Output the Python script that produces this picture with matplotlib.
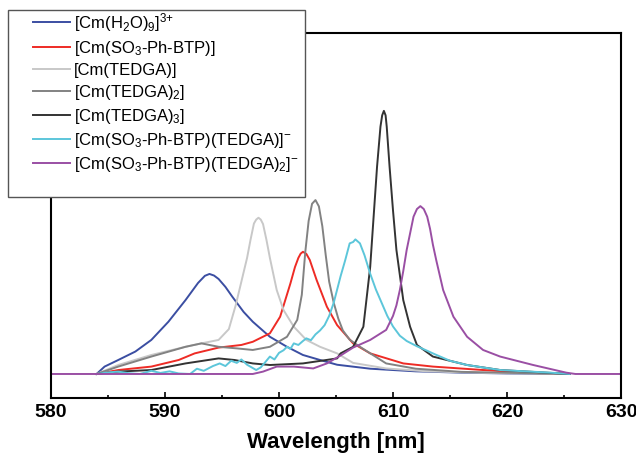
import matplotlib
matplotlib.use("Agg")
import matplotlib.pyplot as plt
from matplotlib.patches import Rectangle

plt.rcParams["font.family"] = ["Liberation Sans", "DejaVu Sans"]
plt.rcParams["mathtext.fontset"] = "custom"
plt.rcParams["mathtext.rm"] = "Liberation Sans"
plt.rcParams["mathtext.default"] = "regular"

labels = [
    r"[Cm(H$_2$O)$_9$]$^{3{+}}$",
    r"[Cm(SO$_3$-Ph-BTP)]",
    "[Cm(TEDGA)]",
    r"[Cm(TEDGA)$_2$]",
    r"[Cm(TEDGA)$_3$]",
    r"[Cm(SO$_3$-Ph-BTP)(TEDGA)]$^{{-}}$",
    r"[Cm(SO$_3$-Ph-BTP)(TEDGA)$_2$]$^{{-}}$",
]
colors = ["#3b4ea2", "#ee2b25", "#c8c8c8", "#828282", "#333333", "#5cc6da", "#9a4fa4"]

# values (normalised intensity, tallest peak = 1)
h2o_wl = [584.0, 584.7, 585.9, 587.4, 588.8, 590.3, 591.8, 592.9, 593.5, 593.9, 594.3,
          594.7, 595.3, 595.9, 596.9, 597.7, 599.2, 600.7, 602.1, 603.6, 605.1, 608.0,
          612.0, 616.0, 620.0, 625.5]
h2o_int = [0.0, 0.028, 0.053, 0.085, 0.129, 0.198, 0.28, 0.345, 0.372, 0.379, 0.373,
           0.36, 0.33, 0.293, 0.235, 0.198, 0.141, 0.103, 0.072, 0.053, 0.035, 0.02,
           0.01, 0.005, 0.002, 0.0]

btp_wl = [584.0, 585.9, 588.8, 591.2, 592.6, 594.7, 596.7, 597.7, 599.2, 600.1, 601.0,
          601.4, 601.7, 601.9, 602.1, 602.4, 602.7, 603.3, 604.2, 605.1, 606.5, 608.0,
          610.9, 613.5, 617.9, 622.0, 625.5]
btp_int = [0.0, 0.015, 0.028, 0.053, 0.078, 0.1, 0.11, 0.122, 0.154, 0.217, 0.343,
           0.405, 0.44, 0.456, 0.463, 0.455, 0.432, 0.356, 0.255, 0.185, 0.116, 0.078,
           0.04, 0.028, 0.015, 0.004, 0.0]

tedga1_wl = [584.0, 585.9, 588.8, 591.8, 593.2, 594.7, 595.6, 596.2, 596.7, 597.2, 597.5,
             597.8, 598.0, 598.2, 598.4, 598.6, 598.9, 599.2, 599.8, 600.4, 601.3, 602.4,
             603.6, 605.1, 606.5, 609.4, 613.0, 618.0, 625.5]
tedga1_int = [0.0, 0.034, 0.072, 0.103, 0.116, 0.129, 0.17, 0.26, 0.35, 0.44, 0.508,
              0.57, 0.585, 0.592, 0.585, 0.568, 0.508, 0.44, 0.318, 0.242, 0.179, 0.129,
              0.103, 0.078, 0.042, 0.021, 0.01, 0.004, 0.0]

tedga2_wl = [584.0, 585.9, 588.8, 591.8, 593.2, 594.7, 596.3, 597.7, 599.2, 600.7, 601.6,
             602.0, 602.3, 602.6, 602.9, 603.2, 603.5, 603.8, 604.1, 604.4, 604.8, 605.2,
             605.6, 606.2, 607.1, 609.4, 612.0, 616.0, 625.5]
tedga2_int = [0.0, 0.028, 0.066, 0.103, 0.116, 0.103, 0.097, 0.091, 0.103, 0.141, 0.205,
              0.3, 0.46, 0.58, 0.645, 0.659, 0.635, 0.56, 0.45, 0.35, 0.27, 0.21,
              0.165, 0.13, 0.103, 0.04, 0.02, 0.008, 0.0]

tedga3_wl = [584.0, 585.9, 588.8, 591.8, 594.7, 596.1, 597.7, 599.2, 602.1, 605.1, 605.4,
             606.5, 607.4, 608.0, 608.3, 608.6, 608.9, 609.05, 609.2, 609.35, 609.45, 609.7,
             610.0, 610.3, 610.9, 611.5, 612.1, 613.5, 616.5, 619.4, 625.5]
tedga3_int = [0.0, 0.009, 0.015, 0.04, 0.059, 0.053, 0.04, 0.034, 0.04, 0.059, 0.078,
              0.103, 0.179, 0.406, 0.596, 0.785, 0.937, 0.98, 0.997, 0.98, 0.937, 0.785,
              0.62, 0.47, 0.28, 0.179, 0.11, 0.066, 0.034, 0.015, 0.0]

mix1_wl = [584.0, 585.0, 585.9, 586.8, 587.8, 588.8, 589.6, 590.4, 591.2, 592.2, 592.8,
           593.4, 594.2, 594.8, 595.3, 595.8, 596.3, 596.7, 597.2, 597.6, 598.0, 598.4,
           598.8, 599.2, 599.6, 600.0, 600.4, 600.7, 601.0, 601.3, 601.7, 602.1, 602.4,
           602.8, 603.2, 603.6, 604.0, 604.4, 604.8, 605.1, 605.4, 605.8, 606.2, 606.5,
           606.7, 607.1, 607.5, 608.0, 608.5, 608.9, 609.5, 610.0, 610.6, 611.2, 612.1,
           613.0, 613.5, 615.0, 616.5, 619.4, 623.8, 625.5]
mix1_int = [0.0, 0.006, 0.009, 0.003, 0.0, 0.012, 0.004, 0.01, 0.002, 0.0, 0.02,
            0.012, 0.03, 0.04, 0.03, 0.05, 0.042, 0.055, 0.035, 0.025, 0.015, 0.025,
            0.045, 0.066, 0.055, 0.08, 0.09, 0.103, 0.095, 0.116, 0.11, 0.125, 0.135,
            0.128, 0.15, 0.165, 0.185, 0.22, 0.27, 0.32, 0.37, 0.43, 0.495, 0.5,
            0.51, 0.495, 0.45, 0.38, 0.32, 0.28, 0.22, 0.18, 0.145, 0.125, 0.105,
            0.088, 0.078, 0.05, 0.034, 0.015, 0.005, 0.0]

mix2_wl = [580.0, 597.7, 598.6, 599.8, 601.3, 603.0, 604.2, 605.4, 606.5, 608.0, 609.4,
           610.0, 610.3, 610.6, 610.9, 611.2, 611.5, 611.8, 612.1, 612.4, 612.7, 613.0,
           613.25, 613.5, 613.8, 614.4, 615.3, 616.5, 617.9, 619.4, 622.3, 625.2, 626.0,
           630.0]
mix2_int = [0.0, 0.0, 0.009, 0.028, 0.028, 0.021, 0.04, 0.07, 0.1, 0.129, 0.167,
            0.22, 0.26, 0.318, 0.39, 0.47, 0.533, 0.596, 0.625, 0.636, 0.625, 0.596,
            0.55, 0.49, 0.43, 0.318, 0.217, 0.141, 0.091, 0.066, 0.034, 0.005, 0.0,
            0.0]

series = [(h2o_wl, h2o_int), (btp_wl, btp_int), (tedga1_wl, tedga1_int),
          (tedga2_wl, tedga2_int), (tedga3_wl, tedga3_int), (mix1_wl, mix1_int),
          (mix2_wl, mix2_int)]

fig = plt.figure(figsize=(6.36, 4.58), dpi=100)
ax = fig.add_axes([51 / 636, 60 / 458, 570 / 636, 365 / 458])

handles = []
for (wl, inten), c, lab in zip(series, colors, labels):
    (ln,) = ax.plot(wl, inten, color=c, lw=1.4, label=lab)
    handles.append(ln)

ax.set_xlim(580, 630)
ax.set_ylim(-0.091, 1.292)
ax.set_xticks(range(580, 631, 10))
ax.set_xticks(range(585, 630, 10), minor=True)
ax.set_yticks([])
ax.tick_params(axis="x", which="major", direction="in", length=4, width=1.2,
               labelsize=14, pad=4.5)
ax.tick_params(axis="x", which="minor", direction="in", length=2, width=1.2)
for lbl in ax.get_xticklabels():
    lbl.set_fontweight("bold")
for sp in ax.spines.values():
    sp.set_linewidth(1.5)
ax.set_xlabel("Wavelength [nm]", fontsize=16, fontweight="bold", labelpad=8)

# legend box sits over the top-left corner of the axes
fig.patches.append(Rectangle((8 / 636, 1 - 197 / 458), 297 / 636, 187 / 458,
                             transform=fig.transFigure, facecolor="white",
                             edgecolor="#555555", lw=1.0, zorder=4))
fig.legend(handles=handles, loc="upper left", bbox_to_anchor=(33 / 636, 1 - 11 / 458),
           frameon=False, borderpad=0, borderaxespad=0, fontsize=12,
           handlelength=2.2, handletextpad=0.25, labelspacing=0.3)

fig.savefig("out.png", dpi=100)
